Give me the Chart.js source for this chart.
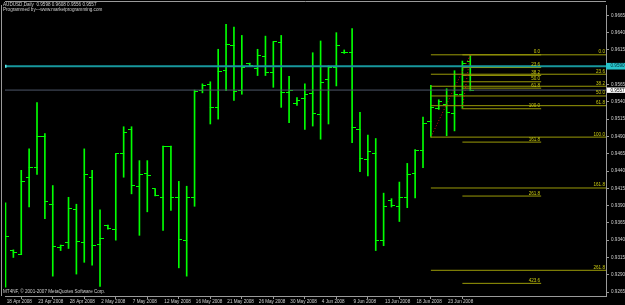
<!DOCTYPE html>
<html><head><meta charset="utf-8">
<script src="https://cdn.jsdelivr.net/npm/chart.js@4.4.1/dist/chart.umd.min.js"></script>
<style>html,body{margin:0;padding:0;background:#000;overflow:hidden}</style>
</head><body>
<canvas id="c" width="625" height="305"></canvas>
<script>
// ---- data ----
const symbolName = 'AUDUSD,Daily';
const creditLine = 'Programmed by---www.marketprogramming.com';
const copyrightLine = 'MT4NF, \u00A9 2001-2007 MetaQuotes Software Corp.';
const dateLabels = ['18 Apr 2008','23 Apr 2008','28 Apr 2008','2 May 2008','7 May 2008','12 May 2008','16 May 2008','21 May 2008','26 May 2008','30 May 2008','4 Jun 2008','9 Jun 2008','13 Jun 2008','18 Jun 2008','23 Jun 2008'];
const barsPerLabel = 4;
const priceTicks = [0.9665,0.9640,0.9615,0.9590,0.9565,0.9540,0.9515,0.9490,0.9465,0.9440,0.9415,0.9390,0.9365,0.9340,0.9315,0.9290,0.9265];
const openP  = [0.9300,0.9325,0.9320,0.9430,0.9445,0.9490,0.9391,0.9330,0.9336,0.9385,0.9336,0.9431,0.9334,0.9361,0.9356,0.9465,0.9500,0.9418,0.9436,0.9414,0.9402,0.9476,0.9401,0.9340,0.9401,0.9556,0.9565,0.9532,0.9586,0.9622,0.9556,0.9595,0.9588,0.9606,0.9582,0.9626,0.9554,0.9537,0.9545,0.9552,0.9521,0.9573,0.9589,0.9612,0.9612,0.9500,0.9457,0.9466,0.9340,0.9398,0.9389,0.9402,0.9436,0.9470,0.9512,0.9530,0.9536,0.9523,0.9550,0.9598];
const highP  = [0.9394,0.9326,0.9441,0.9472,0.9539,0.9494,0.9419,0.9333,0.9402,0.9392,0.9472,0.9441,0.9384,0.9362,0.9465,0.9504,0.9504,0.9455,0.9455,0.9414,0.9476,0.9476,0.9425,0.9418,0.9557,0.9566,0.9569,0.9616,0.9652,0.9648,0.9636,0.9596,0.9616,0.9635,0.9627,0.9636,0.9577,0.9546,0.9566,0.9611,0.9628,0.9592,0.9640,0.9615,0.9646,0.9525,0.9492,0.9487,0.9408,0.9400,0.9424,0.9451,0.9471,0.9518,0.9564,0.9543,0.9559,0.9585,0.9599,0.9608];
const lowP   = [0.9272,0.9315,0.9319,0.9388,0.9435,0.9371,0.9288,0.9325,0.9328,0.9291,0.9308,0.9304,0.9273,0.9356,0.9340,0.9431,0.9407,0.9347,0.9381,0.9404,0.9354,0.9383,0.9300,0.9288,0.9389,0.9553,0.9508,0.9515,0.9556,0.9542,0.9551,0.9591,0.9578,0.9578,0.9561,0.9532,0.9510,0.9535,0.9500,0.9505,0.9486,0.9508,0.9563,0.9610,0.9481,0.9439,0.9433,0.9325,0.9332,0.9388,0.9367,0.9387,0.9401,0.9445,0.9489,0.9529,0.9491,0.9498,0.9530,0.9556];
const closeP = [0.9346,0.9322,0.9425,0.9445,0.9490,0.9396,0.9331,0.9333,0.9386,0.9338,0.9435,0.9333,0.9343,0.9357,0.9465,0.9495,0.9419,0.9435,0.9434,0.9404,0.9475,0.9402,0.9341,0.9401,0.9555,0.9564,0.9532,0.9584,0.9623,0.9555,0.9589,0.9592,0.9607,0.9583,0.9627,0.9553,0.9556,0.9542,0.9550,0.9523,0.9568,0.9590,0.9622,0.9612,0.9503,0.9458,0.9468,0.9339,0.9388,0.9390,0.9402,0.9435,0.9469,0.9508,0.9532,0.9541,0.9524,0.9551,0.9596,0.9557];
const hLinePrice = 0.95915;
const hLineLabel = '0.9590';
const bidPrice = 0.9557;
const fibRatios = [0, 23.6, 38.2, 50, 61.8, 100, 161.8, 261.8, 423.6];
const fibAnchorsA = [54, 59];   // bar index of low anchor, bar index of high anchor (ray to right)
const fibAnchorsB = [58, 59];
const fibEndB = 68;             // bar index where the second fib's lines stop

// ---- view ----
const X_MIN = -0.063, X_MAX = 76.23, Y_MIN = 0.92593, Y_MAX = 0.96800;
const FONT = 'Liberation Sans';
const lime = '#00ff00', fibColor = '#9a9a08', fibText = '#cccc10', axisGray = '#9a9a9a', textGray = '#d0d0d0';

function tickImg(side){
  const c = document.createElement('canvas'); c.width = 7; c.height = 1;
  const g = c.getContext('2d'); g.fillStyle = lime;
  if (side === 'open') g.fillRect(0,0,4,1); else g.fillRect(3,0,4,1);
  return c;
}

function fibLevels(anch){
  const lo = lowP[anch[0]], hi = highP[anch[1]];
  return fibRatios.map(r => ({ratio: r, price: hi - r/100*(hi - lo)}));
}
const fibA = fibLevels(fibAnchorsA);
const fibB = fibLevels(fibAnchorsB);

const datasets = [];
datasets.push({type:'line', data:[{x:X_MIN,y:hLinePrice},{x:X_MAX,y:hLinePrice}], borderColor:'#17979d', borderWidth:2,
  pointRadius:[2.2,0], pointStyle:'rect', pointBackgroundColor:'#5fe8ea', pointBorderWidth:0, showLine:true});
datasets.push({type:'line', data:[{x:X_MIN,y:bidPrice},{x:X_MAX,y:bidPrice}], borderColor:'#4d5668', borderWidth:1, pointRadius:0, showLine:true});
datasets.push({type:'line', data:[{x:fibAnchorsA[0],y:lowP[fibAnchorsA[0]]},{x:fibAnchorsA[1],y:highP[fibAnchorsA[1]]}], borderColor:'#d01010', borderWidth:1, borderDash:[1,2], pointRadius:0, showLine:true});
datasets.push({type:'line', data:[{x:fibAnchorsB[0],y:lowP[fibAnchorsB[0]]},{x:fibAnchorsB[1],y:highP[fibAnchorsB[1]]}], borderColor:'#d01010', borderWidth:1, borderDash:[1,2], pointRadius:0, showLine:true});
fibA.forEach(l => datasets.push({type:'line', data:[{x:fibAnchorsA[0],y:l.price},{x:X_MAX,y:l.price}], borderColor:fibColor, borderWidth:1, pointRadius:0, showLine:true}));
fibB.forEach(l => datasets.push({type:'line', data:[{x:fibAnchorsB[0],y:l.price},{x:fibEndB,y:l.price}], borderColor:fibColor, borderWidth:1, pointRadius:0, showLine:true}));
datasets.push({type:'scatter', data: openP.map((v,i)=>({x:i,y:v})), pointStyle: tickImg('open'), pointRadius:3, showLine:false});
datasets.push({type:'scatter', data: closeP.map((v,i)=>({x:i,y:v})), pointStyle: tickImg('close'), pointRadius:3, showLine:false});
datasets.push({type:'bar', data: highP.map((h,i)=>({x:i,y:[lowP[i],h]})), backgroundColor: lime, barThickness:1, borderWidth:0});

const overlay = {
  id:'overlay',
  beforeDraw(chart){
    const ctx = chart.ctx; ctx.save(); ctx.fillStyle = '#000'; ctx.fillRect(0,0,chart.width,chart.height); ctx.restore();
  },
  afterDatasetsDraw(chart){
    const ctx = chart.ctx, xs = chart.scales.x, ys = chart.scales.y, a = chart.chartArea;
    ctx.save();
    ctx.beginPath(); ctx.rect(a.left, a.top, a.right-a.left, a.bottom-a.top); ctx.clip();
    ctx.font = '4.6px ' + FONT; ctx.fillStyle = fibText; ctx.textAlign = 'right'; ctx.textBaseline = 'bottom';
    fibA.forEach(l => { const y = ys.getPixelForValue(l.price); ctx.fillText(l.ratio.toFixed(1), xs.getPixelForValue(X_MAX)-1, y-0.5); });
    fibB.forEach(l => { const y = ys.getPixelForValue(l.price); ctx.fillText(l.ratio.toFixed(1), xs.getPixelForValue(fibEndB)-1, y-0.5); });
    ctx.restore();
  },
  afterDraw(chart){
    const ctx = chart.ctx, ys = chart.scales.y, a = chart.chartArea;
    ctx.save();
    ctx.strokeStyle = axisGray; ctx.lineWidth = 1;
    ctx.beginPath(); ctx.moveTo(a.left, 1.5); ctx.lineTo(a.right, 1.5);
    ctx.moveTo(1.5, a.top); ctx.lineTo(1.5, a.bottom); ctx.stroke();
    ctx.font = '4.6px ' + FONT; ctx.fillStyle = textGray; ctx.textAlign = 'left'; ctx.textBaseline = 'middle';
    const n = openP.length - 1;
    ctx.fillText(symbolName + '  ' + [openP[n],highP[n],lowP[n],closeP[n]].map(v=>v.toFixed(4)).join(' '), 3, 4.8);
    ctx.fillText(creditLine, 3, 10.2);
    ctx.fillText(copyrightLine, 3, 292.2);
    const yc = ys.getPixelForValue(hLinePrice);
    ctx.fillStyle = '#27c4ca'; ctx.fillRect(606, yc-3.3, 19, 6.6);
    ctx.fillStyle = '#06303a'; ctx.fillText(hLineLabel, 610.5, yc);
    const yb = ys.getPixelForValue(bidPrice);
    ctx.fillStyle = '#ffffff'; ctx.fillRect(607, yb-2.6, 18, 5.4);
    ctx.fillStyle = '#000000'; ctx.fillText(bidPrice.toFixed(4), 610.5, yb+0.2);
    ctx.restore();
  }
};

new Chart(document.getElementById('c'), {
  type:'scatter',
  data:{datasets},
  plugins:[overlay],
  options:{
    responsive:false, animation:false, devicePixelRatio:1,
    layout:{padding:{top:1.5,left:1,right:0,bottom:0}},
    plugins:{legend:{display:false}, tooltip:{enabled:false}},
    scales:{
      x:{type:'linear', min:X_MIN, max:X_MAX, offset:false,
        grid:{display:true, drawOnChartArea:false, drawTicks:true, tickLength:3, color:axisGray},
        border:{display:true, color:axisGray},
        afterBuildTicks(s){ s.ticks = dateLabels.map((_,k)=>({value:k*barsPerLabel})); },
        afterFit(s){ s.height = 9; s.paddingLeft = 0; s.paddingRight = 0; },
        ticks:{autoSkip:false, maxRotation:0, minRotation:0, align:'start', padding:0, color:textGray,
          font:{family:FONT, size:4.6}, callback:(v,i)=>' ' + dateLabels[i]}
      },
      y:{type:'linear', position:'right', min:Y_MIN, max:Y_MAX,
        grid:{display:true, drawOnChartArea:false, drawTicks:true, tickLength:3, color:axisGray},
        border:{display:true, color:axisGray},
        afterBuildTicks(s){ s.ticks = priceTicks.map(v=>({value:v})); },
        afterFit(s){ s.width = 19; s.paddingTop = 0; s.paddingBottom = 0; },
        ticks:{padding:2, color:textGray, font:{family:FONT, size:4.6}, callback:v=>v.toFixed(4)}
      }
    }
  }
});
</script>
</body></html>
